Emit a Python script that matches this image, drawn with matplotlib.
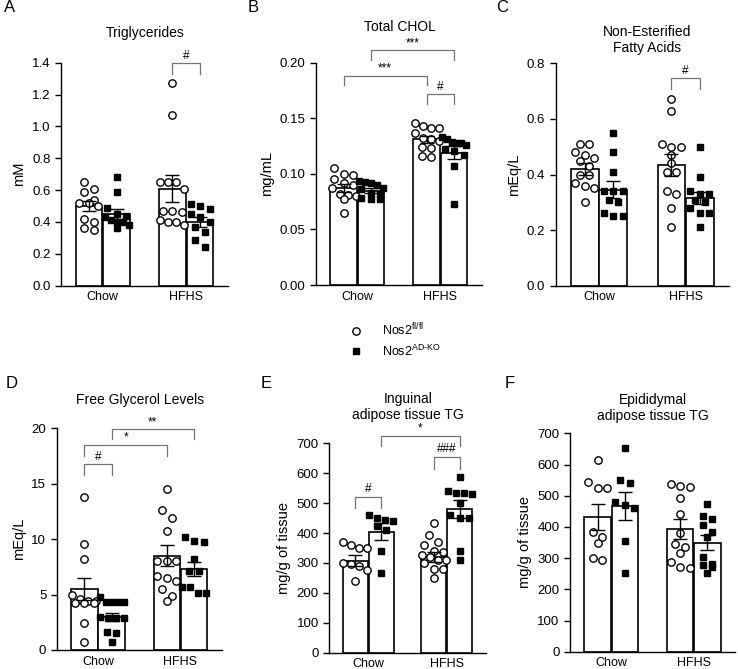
import matplotlib.pyplot as plt
from matplotlib.lines import Line2D
from matplotlib.ticker import FormatStrFormatter

plt.rcParams['font.family'] = ['Liberation Sans', 'DejaVu Sans']
plt.rcParams['mathtext.fontset'] = 'custom'
plt.rcParams['mathtext.rm'] = 'Liberation Sans'

groups = ['Chow', 'HFHS']
legend_labels = ['Nos2$^{\\mathregular{fl/fl}}$', 'Nos2$^{\\mathregular{AD\u2010KO}}$']

# A - triglycerides (mM)
tg_chow_wt = [0.65, 0.61, 0.59, 0.54, 0.52, 0.52, 0.50, 0.42, 0.40, 0.36, 0.35]
tg_chow_ko = [0.68, 0.59, 0.49, 0.45, 0.44, 0.43, 0.41, 0.40, 0.40, 0.38, 0.36]
tg_hfhs_wt = [1.27, 1.07, 0.65, 0.65, 0.65, 0.61, 0.47, 0.47, 0.46, 0.41, 0.40, 0.40, 0.38]
tg_hfhs_ko = [0.51, 0.50, 0.48, 0.45, 0.43, 0.40, 0.37, 0.34, 0.29, 0.24]
tg_mean = [0.50, 0.45, 0.61, 0.40]
tg_sem = [0.033, 0.03, 0.083, 0.034]

# B - total cholesterol (mg/mL)
chol_chow_wt = [0.105, 0.100, 0.099, 0.095, 0.092, 0.090, 0.087, 0.082, 0.081, 0.080, 0.077, 0.065]
chol_chow_ko = [0.094, 0.093, 0.092, 0.090, 0.087, 0.086, 0.083, 0.082, 0.078, 0.077, 0.077]
chol_hfhs_wt = [0.146, 0.143, 0.141, 0.141, 0.137, 0.132, 0.131, 0.130, 0.124, 0.123, 0.116, 0.115]
chol_hfhs_ko = [0.133, 0.131, 0.129, 0.128, 0.128, 0.126, 0.122, 0.121, 0.117, 0.107, 0.073]
chol_mean = [0.087, 0.085, 0.131, 0.119]
chol_sem = [0.0035, 0.002, 0.003, 0.006]

# C - NEFA (mEq/L)
nefa_chow_wt = [0.51, 0.51, 0.48, 0.47, 0.46, 0.45, 0.43, 0.40, 0.40, 0.37, 0.36, 0.35, 0.30]
nefa_chow_ko = [0.55, 0.48, 0.41, 0.34, 0.34, 0.34, 0.31, 0.30, 0.26, 0.25, 0.25]
nefa_hfhs_wt = [0.67, 0.63, 0.51, 0.50, 0.50, 0.47, 0.44, 0.41, 0.41, 0.34, 0.33, 0.28, 0.21]
nefa_hfhs_ko = [0.50, 0.39, 0.34, 0.33, 0.33, 0.31, 0.30, 0.28, 0.26, 0.26, 0.21]
nefa_mean = [0.42, 0.345, 0.435, 0.315]
nefa_sem = [0.02, 0.03, 0.04, 0.022]

# D - free glycerol (mEq/L)
gly_chow_wt = [13.8, 9.6, 8.2, 5.0, 4.6, 4.4, 4.4, 4.2, 4.2, 4.2, 2.4, 0.7]
gly_chow_ko = [4.75, 4.35, 4.35, 4.35, 4.35, 3.0, 2.9, 2.9, 2.9, 1.65, 1.5, 0.7]
gly_hfhs_wt = [14.5, 12.6, 11.9, 10.7, 8.0, 8.0, 8.0, 6.7, 6.5, 6.2, 5.5, 4.9, 4.4]
gly_hfhs_ko = [10.2, 9.8, 9.7, 8.2, 7.1, 7.1, 5.7, 5.7, 5.1, 5.1]
gly_mean = [5.5, 3.0, 8.5, 7.3]
gly_sem = [1.0, 0.35, 0.95, 0.65]

# E - inguinal adipose TG (mg/g)
ing_chow_wt = [370, 360, 350, 350, 300, 295, 290, 275, 240]
ing_chow_ko = [460, 450, 445, 440, 425, 410, 340, 268]
ing_hfhs_wt = [432, 395, 370, 360, 340, 338, 327, 320, 310, 310, 300, 279, 279, 250]
ing_hfhs_ko = [589, 540, 535, 535, 530, 500, 460, 450, 450, 340, 310]
ing_mean = [308, 405, 320, 480]
ing_sem = [17, 27, 18, 30]

# F - epididymal adipose TG (mg/g)
epi_chow_wt = [614, 545, 524, 524, 385, 369, 347, 299, 294]
epi_chow_ko = [652, 550, 542, 480, 470, 460, 355, 251]
epi_hfhs_wt = [537, 531, 529, 494, 441, 382, 344, 335, 315, 286, 273, 267]
epi_hfhs_ko = [473, 436, 425, 406, 385, 367, 305, 281, 278, 270, 251]
epi_mean = [432, 467, 393, 350]
epi_sem = [41, 44, 32, 24]

W, H = 738, 669
fig = plt.figure(figsize=(W / 100, H / 100), dpi=100)


def px_axes(l, t, r, b):
    return fig.add_axes([l / W, 1 - b / H, (r - l) / W, (b - t) / H])


def swarm(ax, xc, vals, step=9.5, rowh=8.0, maxw=24.0):
    # points grouped in rows (like Prism), each row centred on the bar
    tr = ax.transData
    x0 = tr.transform((xc, 0))[0]
    pys = [tr.transform((xc, v))[1] for v in vals]
    order = sorted(range(len(vals)), key=lambda i: -pys[i])
    rows = []
    for i in order:
        if rows and rows[-1][0] - pys[i] < rowh:
            rows[-1][1].append(i)
        else:
            rows.append((pys[i], [i]))
    xs = [xc] * len(vals)
    for _, idx in rows:
        n = len(idx)
        s = step if (n - 1) * step <= maxw else maxw / (n - 1)
        for k, i in enumerate(idx):
            px = x0 + (k - (n - 1) / 2) * s
            xs[i] = tr.inverted().transform((px, pys[i]))[0]
    return xs


def panel(box, title, ylabel, ymax, ystep, fmt, pts, mean, sem, brackets, title_xy):
    ax = px_axes(*box)
    ax.set_xlim(-0.5, 1.5)
    ax.set_ylim(0, ymax)
    pos = [-0.165, 0.165, 0.835, 1.165]
    ax.bar(pos, mean, width=0.32, color='white', edgecolor='black', linewidth=1.2, zorder=1)
    for i, vals in enumerate(pts):
        xs = swarm(ax, pos[i], vals)
        if i % 2 == 0:
            ax.plot(xs, vals, 'o', ms=5.3, mfc='white', mec='black', mew=1.0, zorder=3, clip_on=False)
        else:
            ax.plot(xs, vals, 's', ms=4.8, color='black', zorder=3, clip_on=False)
    ax.errorbar(pos, mean, yerr=sem, fmt='none', ecolor='black', elinewidth=1.0,
                capsize=5, capthick=1.0, zorder=4)
    for i1, i2, y, h, lab in brackets:
        ax.plot([pos[i1], pos[i1], pos[i2], pos[i2]], [y - h, y, y, y - h],
                color='0.45', lw=0.9, clip_on=False)
        ax.annotate(lab, ((pos[i1] + pos[i2]) / 2, y), xytext=(0, 1), textcoords='offset points',
                    ha='center', va='bottom', fontsize=8.5, annotation_clip=False)
    ticks = [ystep * k for k in range(int(round(ymax / ystep)) + 1)]
    ax.set_yticks(ticks)
    ax.yaxis.set_major_formatter(FormatStrFormatter(fmt))
    ax.set_xticks([0, 1])
    ax.set_xticklabels(groups)
    ax.tick_params(axis='y', direction='out', length=4, width=1.0, labelsize=9.5)
    ax.tick_params(axis='x', length=0, pad=4, labelsize=9)
    for s in ['top', 'right']:
        ax.spines[s].set_visible(False)
    for s in ['left', 'bottom']:
        ax.spines[s].set_linewidth(1.0)
    ax.set_ylabel(ylabel, fontsize=10.5)
    fig.text(title_xy[0] / W, 1 - title_xy[1] / H, title, ha='center', va='center',
             fontsize=10, linespacing=1.1)
    return ax


panel((61, 62.7, 228, 285.7), 'Triglycerides', 'mM', 1.4, 0.2, '%.1f',
      [tg_chow_wt, tg_chow_ko, tg_hfhs_wt, tg_hfhs_ko], tg_mean, tg_sem,
      [(2, 3, 1.396, 0.066, '#')], (145, 33))
panel((315.7, 62.7, 482, 285), 'Total CHOL', 'mg/mL', 0.20, 0.05, '%.2f',
      [chol_chow_wt, chol_chow_ko, chol_hfhs_wt, chol_hfhs_ko], chol_mean, chol_sem,
      [(0, 2, 0.188, 0.008, '***'), (1, 3, 0.211, 0.0085, '***'), (2, 3, 0.1715, 0.0085, '#')],
      (400, 27))
panel((555.7, 63.3, 729, 285.7), 'Non-Esterified\nFatty Acids', 'mEq/L', 0.8, 0.2, '%.1f',
      [nefa_chow_wt, nefa_chow_ko, nefa_hfhs_wt, nefa_hfhs_ko], nefa_mean, nefa_sem,
      [(2, 3, 0.746, 0.04, '#')], (647, 40))
panel((56.7, 428.3, 221.7, 650), 'Free Glycerol Levels', 'mEq/L', 20, 5, '%d',
      [gly_chow_wt, gly_chow_ko, gly_hfhs_wt, gly_hfhs_ko], gly_mean, gly_sem,
      [(0, 1, 16.75, 0.95, '#'), (0, 2, 18.5, 1.0, '*'), (1, 3, 19.9, 0.85, '**')],
      (140, 400))
panel((329.3, 443.3, 485.7, 652.7), 'Inguinal\nadipose tissue TG', 'mg/g of tissue', 700, 100, '%d',
      [ing_chow_wt, ing_chow_ko, ing_hfhs_wt, ing_hfhs_ko], ing_mean, ing_sem,
      [(0, 1, 522, 39, '#'), (2, 3, 655, 42, '###'), (1, 3, 724, 34, '*')],
      (408, 407))
panel((570, 433.3, 735, 651.7), 'Epididymal\nadipose tissue TG', 'mg/g of tissue', 700, 100, '%d',
      [epi_chow_wt, epi_chow_ko, epi_hfhs_wt, epi_hfhs_ko], epi_mean, epi_sem,
      [], (653, 408))

# panel letters
for lab, x, y in [('A', 10, 7), ('B', 253, 8), ('C', 502, 8),
                  ('D', 12, 383), ('E', 266, 383), ('F', 510, 383)]:
    fig.text(x / W, 1 - y / H, lab, ha='center', va='center', fontsize=12)

handles = [Line2D([], [], marker='o', ls='none', ms=5.3, mfc='white', mec='black', mew=1.0),
           Line2D([], [], marker='s', ls='none', ms=4.8, color='black')]
fig.legend(handles, legend_labels, loc='center left', bbox_to_anchor=(338 / W, 1 - 340 / H),
           frameon=False, handlelength=1.0, handletextpad=1.6, labelspacing=0.45, fontsize=9,
           borderpad=0.4)

fig.savefig('out.png', dpi=100)
